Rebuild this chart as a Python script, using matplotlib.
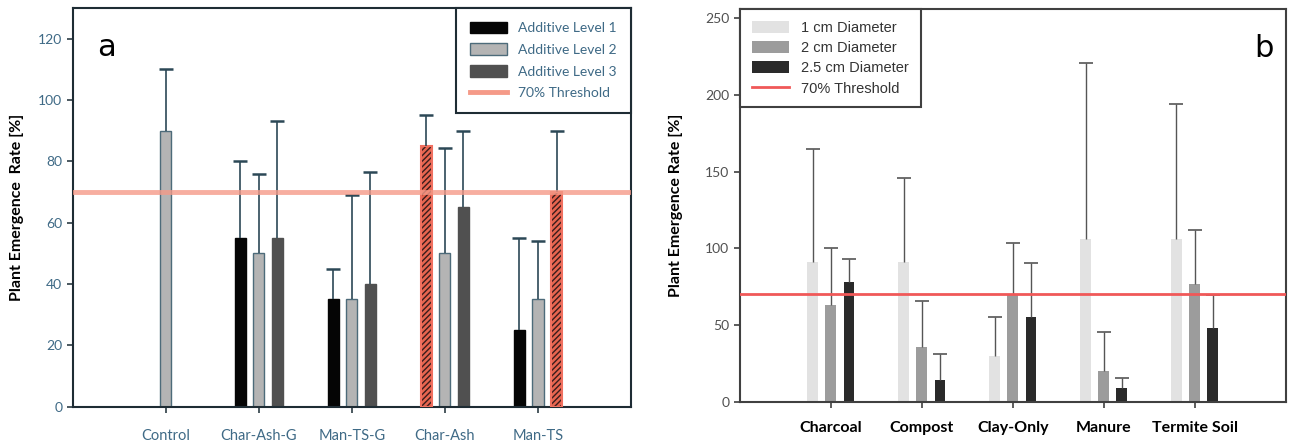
import numpy as np
import matplotlib
matplotlib.use("Agg")
import matplotlib.pyplot as plt
from matplotlib.patches import Patch
from matplotlib.lines import Line2D

# panel a data
groups_a = ["Control", "Char-Ash-G", "Man-TS-G", "Char-Ash", "Man-TS"]
level1 = [np.nan, 55, 35, 85, 25]
level1_top = [np.nan, 80, 45, 95, 55]
level2 = [90, 50, 35, 50, 35]
level2_top = [110, 76, 69, 84.5, 54]
level3 = [np.nan, 55, 40, 65, 70]
level3_top = [np.nan, 93, 76.5, 90, 90]
# bars above threshold drawn hatched red (group index, level)
hatched_a = [(3, 1), (4, 3)]
labels_a = ["Additive Level 1", "Additive Level 2", "Additive Level 3", "70% Threshold"]

# panel b data
groups_b = ["Charcoal", "Compost", "Clay-Only", "Manure", "Termite Soil"]
d1 = [91, 91, 30, 106, 106]
d1_top = [165, 146, 55, 221, 194]
d2 = [63, 36, 70, 20, 77]
d2_top = [100, 66, 103.5, 45.5, 112]
d25 = [78, 14, 55, 9, 48]
d25_top = [93, 31, 90.5, 15.5, 69.5]
labels_b = ["1 cm Diameter", "2 cm Diameter", "2.5 cm Diameter", "70% Threshold"]

threshold = 70

fig = plt.figure(figsize=(12.89, 4.41), dpi=100)
ax1 = fig.add_axes([0.0564, 0.0778, 0.4331, 0.9042])
ax2 = fig.add_axes([0.574, 0.0891, 0.4234, 0.8899])

tick_blue = "#3f6a86"
err_a = "#2c4856"
w = 0.12
off = 0.2


def upper_err(ax, xpos, base, top, color, lw, capw, capt, z):
    # only the upper whisker and cap, like the original figure
    ax.vlines(xpos, base, top, color=color, lw=lw, zorder=z)
    ax.plot(xpos, top, ls="none", marker="_", markersize=capw, mew=capt,
            color=color, zorder=z)


# ---- panel a ----
x = np.arange(len(groups_a))
series_a = [(level1, level1_top, "#050505", "#050505"),
            (level2, level2_top, "#b4b4b4", "#4d6b7a"),
            (level3, level3_top, "#505050", "#505050")]
for k, (vals, tops, fc, ec) in enumerate(series_a):
    pos = x + (k - 1) * off
    for i in range(len(x)):
        if np.isnan(vals[i]):
            continue
        p = pos[i]
        if groups_a[i] == "Control":
            p = x[i]
        if (i, k + 1) in hatched_a:
            ax1.bar(p, vals[i], w, color="#e8654f", edgecolor="#3a1c1c",
                    hatch="//////", linewidth=0, zorder=2)
            ax1.bar(p, vals[i], w, fill=False, edgecolor="#f07060", linewidth=1.5, zorder=3)
        else:
            ax1.bar(p, vals[i], w, color=fc, edgecolor=ec, linewidth=1, zorder=2)
        upper_err(ax1, p, vals[i], tops[i], err_a, 1.2, 10, 1.8, 4)

ax1.axhline(threshold, color="#f59a88", lw=3.5, alpha=0.8, zorder=5)
ax1.set_xlim(-1, 5)
ax1.set_ylim(0, 130)
ax1.set_yticks(range(0, 121, 20))
ax1.set_xticks(x)
ax1.set_xticklabels(groups_a, family="Lato", fontsize=10.5, color=tick_blue)
for t in ax1.get_yticklabels():
    t.set_family("Lato")
    t.set_fontsize(10)
    t.set_color(tick_blue)
ax1.tick_params(axis="both", direction="out", length=4, color="#2c3c44", width=1.2)
ax1.tick_params(axis="x", pad=12)
for s in ax1.spines.values():
    s.set_color("#1e2c34")
    s.set_linewidth(1.5)
ax1.set_ylabel("Plant Emergence  Rate [%]", family="Lato", fontweight="bold",
               fontsize=11.5, labelpad=10)
ax1.text(0.043, 0.9, "a", transform=ax1.transAxes, fontsize=22, family="DejaVu Sans",
         va="center", ha="left")

handles_a = [Patch(facecolor="#050505", edgecolor="#050505"),
             Patch(facecolor="#b4b4b4", edgecolor="#4d6b7a"),
             Patch(facecolor="#505050", edgecolor="#505050"),
             Line2D([0], [0], color="#f59a88", lw=3.5)]
leg = ax1.legend(handles_a, labels_a, loc="upper right", bbox_to_anchor=(1, 1),
                 borderaxespad=0, fancybox=False, framealpha=1, handlelength=2.7,
                 handleheight=0.9, labelspacing=0.65, borderpad=1.0,
                 prop={"family": "Lato", "size": 10})
leg.get_frame().set_edgecolor("#1e2c34")
leg.get_frame().set_linewidth(1.5)
for t in leg.get_texts():
    t.set_color(tick_blue)

# ---- panel b ----
xb = np.arange(len(groups_b))
series_b = [(d1, d1_top, "#e2e2e2"), (d2, d2_top, "#9c9c9c"), (d25, d25_top, "#2a2a2a")]
for k, (vals, tops, fc) in enumerate(series_b):
    pos = xb + (k - 1) * off
    ax2.bar(pos, vals, w, color=fc, zorder=2)
    upper_err(ax2, pos, vals, tops, "#555555", 1, 10, 1.2, 3)

ax2.axhline(threshold, color="#f05858", lw=2, zorder=4)
ax2.set_xlim(-1, 5)
ax2.set_ylim(0, 256)
ax2.set_yticks(range(0, 251, 50))
ax2.set_xticks(xb)
ax2.set_xticklabels(groups_b, family="Lato", fontweight="bold", fontsize=11.5, color="black")
for t in ax2.get_yticklabels():
    t.set_family("Lato")
    t.set_fontsize(10)
    t.set_color("#505050")
ax2.tick_params(axis="both", direction="out", length=4, color="#404040", width=1.2)
ax2.tick_params(axis="x", pad=10)
for s in ax2.spines.values():
    s.set_color("#404040")
    s.set_linewidth(1.5)
ax2.set_ylabel("Plant Emergence Rate [%]", family="Lato", fontweight="bold",
               fontsize=11.5, labelpad=16)
ax2.text(0.978, 0.9, "b", transform=ax2.transAxes, fontsize=22, family="DejaVu Sans",
         va="center", ha="right")

handles_b = [Patch(facecolor="#e2e2e2"), Patch(facecolor="#9c9c9c"),
             Patch(facecolor="#2a2a2a"), Line2D([0], [0], color="#f05858", lw=2)]
leg2 = ax2.legend(handles_b, labels_b, loc="upper left", bbox_to_anchor=(0, 1),
                  borderaxespad=0, fancybox=False, framealpha=1, handlelength=2.6,
                  handleheight=0.9, labelspacing=0.42, borderpad=0.8,
                  prop={"family": "Liberation Sans", "size": 10.5})
leg2.get_frame().set_edgecolor("#404040")
leg2.get_frame().set_linewidth(1.5)
for t in leg2.get_texts():
    t.set_color("#333333")

fig.savefig("out.png", dpi=100)
